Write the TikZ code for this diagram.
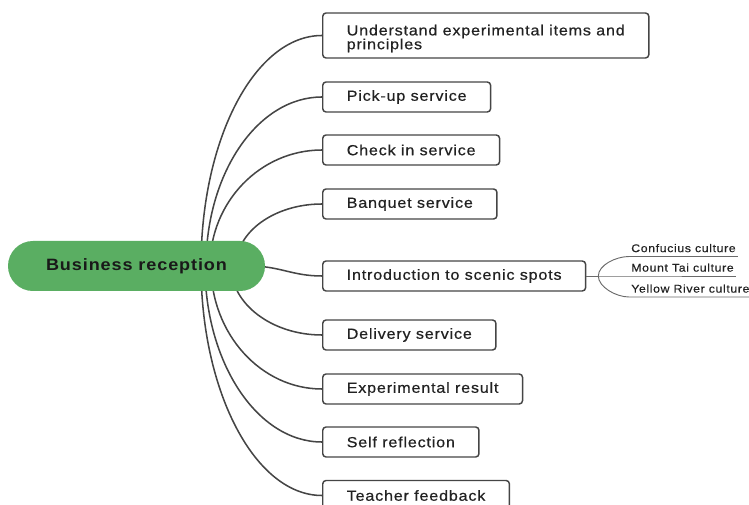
\documentclass[tikz,border=0pt]{standalone}
\usepackage{fontspec}
\setmainfont{Liberation Sans}[FakeStretch=1.1, LetterSpace=5.5, UprightFeatures={FakeBold=0.5}]
\usetikzlibrary{positioning,calc,backgrounds}

\definecolor{rootgreen}{HTML}{5AAE62}
\definecolor{edgegray}{HTML}{454545}
\definecolor{leafgray}{HTML}{6A6A6A}
\definecolor{inkgray}{HTML}{222222}

\begin{document}
\begin{tikzpicture}[x=0.75pt,y=-0.75pt]
\tikzset{
  topic/.style={draw=edgegray, rounded corners=2.5pt, fill=white, line width=1.1pt, anchor=west,
    minimum height=22.5pt, inner xsep=18pt, font=\fontsize{11}{10.4}\selectfont, text=inkgray},
  branch/.style={draw=edgegray, line width=1.15pt},
  leaf/.style={anchor=south west, inner xsep=1.5pt, inner ysep=3pt, font=\fontsize{8.4}{10}\selectfont, text=inkgray},
  twig/.style={draw=leafgray, line width=0.7pt}
}
\useasboundingbox (0,0) rectangle (749,505);

% central topic
\node[fill=rootgreen, rounded corners=18.7pt, minimum width=192.75pt, minimum height=37.5pt,
  text=black!90, font=\bfseries\fontsize{12.3}{15}\selectfont] (root) at (136.5,266) {Business reception};

% main topics
\node[topic, minimum height=33.75pt, align=left] (items) at (322,35.5)
  {\rule{0pt}{12.5pt}Understand experimental items and\\principles};
\node[topic] (pickup) at (322,97) {Pick-up service};
\node[topic] (checkin) at (322,150) {Check in service};
\node[topic] (banquet) at (322,204) {Banquet service};
\node[topic] (scenic) at (322,276) {Introduction to scenic spots};
\node[topic] (delivery) at (322,335) {Delivery service};
\node[topic] (result) at (322,389) {Experimental result};
\node[topic] (reflect) at (322,442) {Self reflection};
\node[topic] (feedback) at (322,495.5) {Teacher feedback};

% branches start under the root and bend into each topic
\begin{scope}[on background layer]
\foreach \t/\dx/\ax/\ay/\bx in {items/64.5/0/-127.5/66.8, pickup/69.5/0/-93.3/64,
    checkin/73.5/0/-64/61.8, banquet/99.5/0/-34.2/47.5, scenic/113.5/30/0/30,
    delivery/94.5/0/38/50, result/74.5/0/68/61, reflect/68.5/0/97/64.6, feedback/64.5/0/126.4/66.6}
  \draw[branch] ($(root.center)+(\dx,0)$) .. controls +(\ax,\ay) and +(-\bx,0) .. (\t.west);
\end{scope}

% subtopics of the scenic spots
\coordinate (fork) at ($(scenic.east)+(12,0)$);
\node[leaf] (confucius) at (629,256.5) {Confucius culture};
\node[leaf] (taishan) at (629,276) {Mount Tai culture};
\node[leaf] (yellow) at (629,297) {Yellow River culture};
\draw[twig] (scenic.east) -- (fork);
\draw[twig] (fork) .. controls +(0,-11) and +(-13,0) .. (confucius.south west) -- (confucius.south east);
\draw[twig] (fork) -- (taishan.south west) -- (taishan.south east);
\draw[twig] (fork) .. controls +(0,11) and +(-13,0) .. (yellow.south west) -- (yellow.south east);
\end{tikzpicture}
\end{document}
